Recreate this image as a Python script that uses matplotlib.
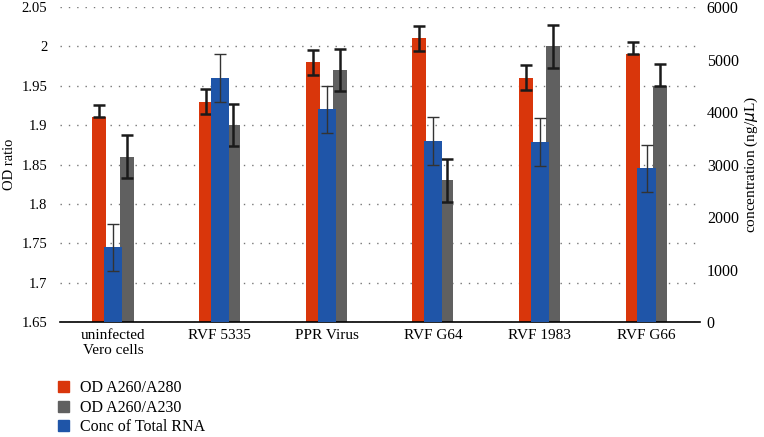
import numpy as np
import matplotlib
matplotlib.use("Agg")
import matplotlib.pyplot as plt
from matplotlib.patches import Patch

plt.rcParams["font.family"] = ["Liberation Serif", "DejaVu Serif"]
plt.rcParams["font.size"] = 11

# data
groups = ["uninfected\nVero cells", "RVF 5335", "PPR Virus", "RVF G64", "RVF 1983", "RVF G66"]
od280 = [1.91, 1.93, 1.98, 2.01, 1.96, 1.99]
od280_lo = [0, 0.016, 0.016, 0.016, 0.016, 0]
od280_hi = [0.016, 0.016, 0.016, 0.016, 0.016, 0.016]
od230 = [1.86, 1.90, 1.97, 1.83, 2.00, 1.95]
od230_lo = [0.027, 0.027, 0.027, 0.027, 0.027, 0]
od230_hi = [0.027, 0.027, 0.027, 0.027, 0.027, 0.027]
conc = [1425, 4650, 4050, 3450, 3430, 2930]
conc_err = [450, 450, 450, 450, 450, 450]

red = "#d9360b"
gray = "#606060"
blue = "#1f55a8"

fig = plt.figure(figsize=(7.64, 4.37), dpi=100)
ax = fig.add_axes([0.0785, 0.263, 0.8375, 0.721])
x = np.arange(len(groups))

ax.bar(x - 0.13, od280, width=0.13, color=red, zorder=2)
ax.bar(x + 0.125, od230, width=0.13, color=gray, zorder=2)
ax.errorbar(x - 0.13, od280, yerr=[od280_lo, od280_hi], fmt="none",
            ecolor="#1a1a1a", elinewidth=1.8, capsize=4, capthick=1.8, zorder=3)
ax.errorbar(x + 0.125, od230, yerr=[od230_lo, od230_hi], fmt="none",
            ecolor="#1a1a1a", elinewidth=1.8, capsize=4, capthick=1.8, zorder=3)

ax.set_ylim(1.65, 2.05)
ax.set_yticks(np.arange(1.65, 2.051, 0.05))
ax.set_yticklabels(["1.65", "1.7", "1.75", "1.8", "1.85", "1.9", "1.95", "2", "2.05"],
                   fontsize=10.5)
ax.set_xlim(-0.5, 5.5)
ax.set_xticks(x)
ax.set_xticklabels(groups, fontsize=11)
ax.tick_params(length=0)
ax.tick_params(axis="y", pad=9)
ax.tick_params(axis="x", pad=5)
ax.grid(axis="y", linestyle=(0, (1, 5)), color="#777777", linewidth=1, zorder=0)
ax.set_axisbelow(True)
for s in ["top", "left", "right"]:
    ax.spines[s].set_visible(False)
ax.spines["bottom"].set_linewidth(1.2)
ax.set_ylabel("OD ratio", fontsize=10.5, labelpad=4)

ax2 = ax.twinx()
ax2.bar(x, conc, width=0.17, color=blue, zorder=2)
ax2.errorbar(x, conc, yerr=conc_err, fmt="none", ecolor="#333333",
             elinewidth=1, capsize=4, capthick=1, zorder=3)
ax2.set_ylim(0, 6000)
ax2.set_yticks(range(0, 6001, 1000))
ax2.tick_params(length=0, pad=5, labelsize=11.5)
for s in ["top", "left", "right", "bottom"]:
    ax2.spines[s].set_visible(False)
ax2.set_ylabel("concentration (ng/$\\mu$L)", fontsize=11, labelpad=3)

handles = [Patch(color=red), Patch(color=gray), Patch(color=blue)]
labels = ["OD A260/A280", "OD A260/A230", "Conc of Total RNA"]
fig.legend(handles, labels, loc="upper left", bbox_to_anchor=(0.066, 0.148),
           frameon=False, fontsize=11.5, handlelength=0.65, handleheight=0.65,
           handletextpad=0.7, labelspacing=0.22, borderpad=0)

fig.savefig("out.png", dpi=100)
